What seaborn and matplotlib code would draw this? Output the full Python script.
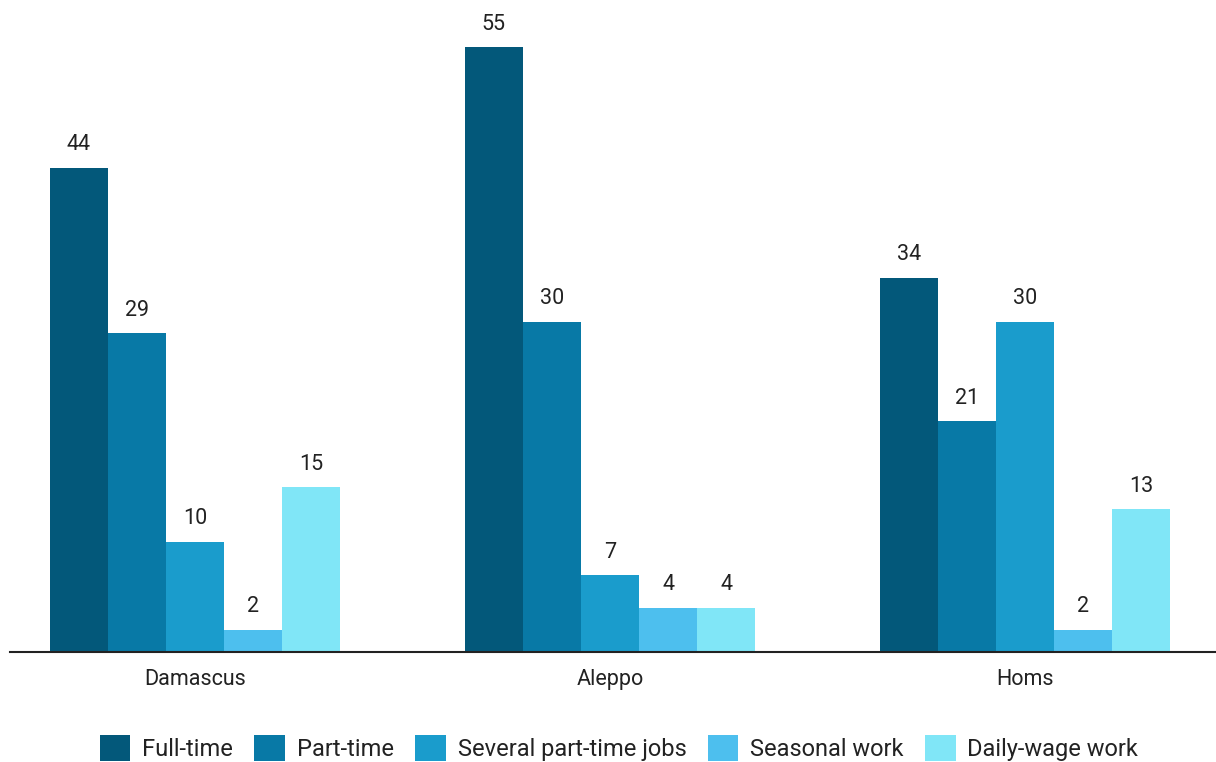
import matplotlib
matplotlib.use("Agg")
import matplotlib.pyplot as plt
import seaborn as sns
import pandas as pd

cities = ["Damascus", "Aleppo", "Homs"]
work_types = ["Full-time", "Part-time", "Several part-time jobs", "Seasonal work", "Daily-wage work"]
full_time = [44, 55, 34]
part_time = [29, 30, 21]
several_jobs = [10, 7, 30]
seasonal = [2, 4, 2]
daily_wage = [15, 4, 13]
colors = ["#03587a", "#0879a6", "#1a9ccc", "#4dbfee", "#80e6f7"]

series = [full_time, part_time, several_jobs, seasonal, daily_wage]
rows = []
for wt, vals in zip(work_types, series):
    for city, v in zip(cities, vals):
        rows.append({"city": city, "type": wt, "share": v})
df = pd.DataFrame(rows)

sns.set_theme(style="white")
plt.rcParams["font.family"] = ["Roboto", "DejaVu Sans"]

fig = plt.figure(figsize=(12.16, 7.62), dpi=100)
ax = fig.add_axes([10 / 1216, 110 / 762, 1206 / 1216, 652 / 762])

sns.barplot(data=df, x="city", y="share", hue="type", order=cities,
            hue_order=work_types, palette=colors, width=0.7, gap=0,
            saturation=1, linewidth=0, edgecolor="none", ax=ax, legend=True)

for cont in ax.containers:
    ax.bar_label(cont, padding=9, fontsize=15.5, color="#222222")

ax.set_xlim(-0.446, 2.46)
ax.set_ylim(0, 55 * 652 / 605)
ax.set_xlabel("")
ax.set_ylabel("")
ax.set_yticks([])
for s in ["top", "right", "left"]:
    ax.spines[s].set_visible(False)
ax.spines["bottom"].set_color("#222222")
ax.spines["bottom"].set_linewidth(1.5)
ax.tick_params(axis="x", labelsize=15.5, colors="#222222", pad=12, length=0)

handles, labels = ax.get_legend_handles_labels()
ax.legend(handles, labels, loc="center", bbox_to_anchor=(619 / 1216, 14 / 762),
          bbox_transform=fig.transFigure, ncol=5, frameon=False, fontsize=17,
          handlelength=1.3, handleheight=1.3, handletextpad=0.5, columnspacing=0.9,
          labelcolor="#222222")

fig.savefig("out.png", dpi=100)
